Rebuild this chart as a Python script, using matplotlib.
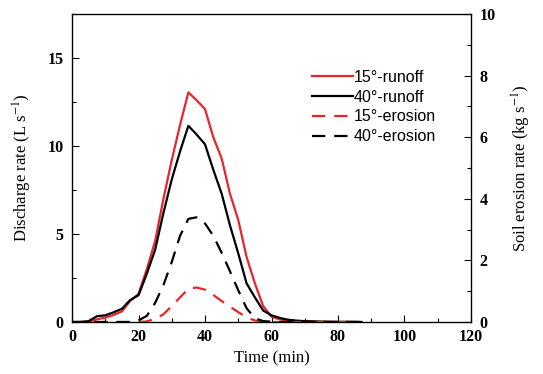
import matplotlib
matplotlib.use("Agg")
import matplotlib.pyplot as plt
from matplotlib.ticker import MultipleLocator

time = [0, 2.5, 5, 7.5, 10, 12.5, 15, 17.5, 20, 22.5, 25, 27.5, 30, 32.5, 35, 37.5, 40,
        42.5, 45, 47.5, 50, 52.5, 55, 57.5, 60, 62.5, 65, 67.5, 70, 75, 80, 85, 87]
runoff_15 = [0, 0, 0.02, 0.15, 0.25, 0.4, 0.6, 1.2, 1.6, 3.0, 4.6, 7.0, 9.2, 11.2, 13.05, 12.6, 12.1,
             10.5, 9.3, 7.3, 5.8, 3.7, 2.2, 0.9, 0.3, 0.15, 0.08, 0.05, 0.03, 0.01, 0, 0, 0]
runoff_40 = [0, 0, 0.05, 0.33, 0.38, 0.55, 0.75, 1.25, 1.52, 2.75, 4.1, 6.2, 8.1, 9.7, 11.15, 10.65, 10.1,
             8.65, 7.3, 5.5, 3.9, 2.2, 1.4, 0.65, 0.38, 0.23, 0.13, 0.08, 0.05, 0.02, 0.01, 0.01, 0]
erosion_15 = [0, 0, 0, 0, 0, 0, 0, 0, 0, 0.02, 0.1, 0.25, 0.52, 0.8, 1.08, 1.12, 1.05,
              0.88, 0.68, 0.5, 0.32, 0.15, 0.05, 0.01, 0, 0, 0, 0, 0, 0, 0, 0, 0]
erosion_40 = [0, 0, 0, 0, 0, 0, 0, 0, 0.05, 0.2, 0.62, 1.2, 1.95, 2.8, 3.35, 3.4, 3.2,
              2.8, 2.25, 1.65, 1.03, 0.45, 0.12, 0.03, 0.01, 0, 0, 0, 0, 0, 0, 0, 0]

labels = ["15°-runoff", "40°-runoff", "15°-erosion", "40°-erosion"]

serif = "Liberation Serif"
sans = "Liberation Sans"
plt.rcParams["mathtext.fontset"] = "stix"

fig = plt.figure(figsize=(5.43, 3.74), dpi=100)
ax = fig.add_axes([0.1326, 0.139, 0.7348, 0.8234])
ax2 = ax.twinx()

lw = 1.6
l1, = ax.plot(time, runoff_15, color="#e8252a", lw=lw)
l2, = ax.plot(time, runoff_40, color="black", lw=lw)
l3, = ax2.plot(time, erosion_15, color="#e8252a", lw=lw, dashes=(6, 4))
l4, = ax2.plot(time, erosion_40, color="black", lw=lw, dashes=(6, 4))

ax.set_xlim(0, 120)
ax.set_ylim(0, 17.5)
ax2.set_ylim(0, 10)
ax.xaxis.set_major_locator(MultipleLocator(20))
ax.xaxis.set_minor_locator(MultipleLocator(10))
ax.yaxis.set_major_locator(MultipleLocator(5))
ax.yaxis.set_minor_locator(MultipleLocator(2.5))
ax2.yaxis.set_major_locator(MultipleLocator(2))
ax2.yaxis.set_minor_locator(MultipleLocator(1))

for a in (ax, ax2):
    a.tick_params(which="both", direction="in", width=0.8)
    a.tick_params(which="major", length=5)
    a.tick_params(which="minor", length=3)
    for lab in a.get_xticklabels() + a.get_yticklabels():
        lab.set_fontfamily(serif)
        lab.set_fontweight("bold")
        lab.set_fontsize(11.5)
ax.tick_params(axis="y", right=False, pad=6)
ax.tick_params(axis="x", top=False, pad=5)
ax2.tick_params(axis="y", pad=6)
for sp in ax.spines.values():
    sp.set_linewidth(0.9)

ax.set_xlabel("Time (min)", fontfamily=serif, fontsize=12, labelpad=4)
ax.set_ylabel("Discharge rate (L s$^{-1}$)", fontfamily=serif, fontsize=12, labelpad=10)
ax2.set_ylabel("Soil erosion rate (kg s$^{-1}$)", fontfamily=serif, fontsize=12, labelpad=10)

leg = ax.legend([l1, l2, l3, l4], labels, loc="upper left", bbox_to_anchor=(0.585, 0.84),
                frameon=False, prop={"family": sans, "size": 11.5}, handlelength=2.6,
                handletextpad=0.0, labelspacing=0.3, borderaxespad=0)

fig.savefig("out.png", dpi=100)
